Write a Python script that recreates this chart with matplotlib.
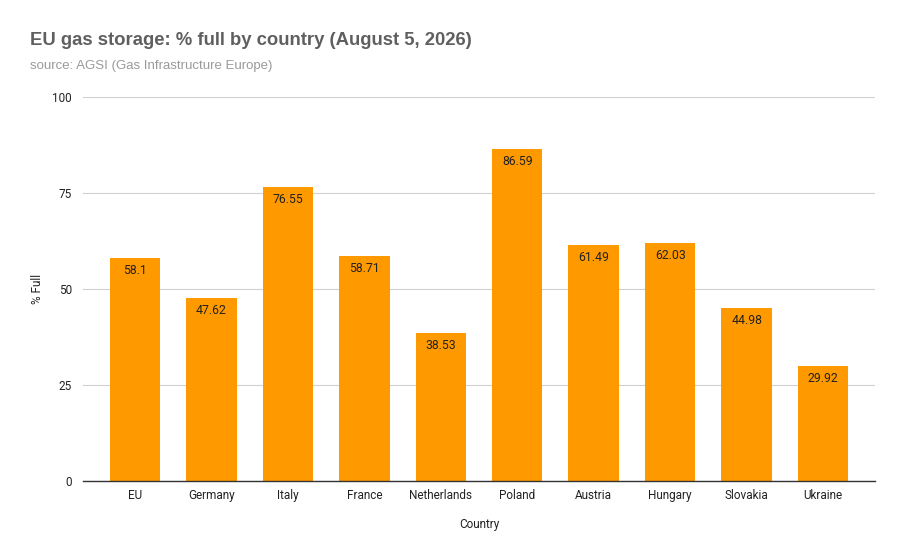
import numpy as np
from matplotlib import pyplot as plt

# Data
countries = ['EU', 'Germany', 'Italy', 'France', 'Netherlands', 'Poland',
             'Austria', 'Hungary', 'Slovakia', 'Ukraine']
pct_full = [58.1, 47.62, 76.55, 58.71, 38.53, 86.59, 61.49, 62.03, 44.98, 29.92]
y_ticks = [0, 25, 50, 75, 100]

plt.rcParams['font.family'] = ['Roboto', 'DejaVu Sans']

fig = plt.figure(figsize=(9.03, 5.58), dpi=100)
ax = fig.add_axes([0.092, 0.138, 0.877, 0.688])

x = np.arange(len(countries))
bars = ax.bar(x, pct_full, width=0.66, color='#ff9900', zorder=2)

# value labels just inside the top of each bar
for rect, v in zip(bars, pct_full):
    ax.annotate(f'{v:g}', (rect.get_x() + rect.get_width() / 2, v),
                xytext=(0, -9), textcoords='offset points',
                ha='center', va='center', fontsize=8.8, color='#222222')

ax.set_xlim(-0.68, len(countries) - 0.32)
ax.set_ylim(0, 100)
ax.set_yticks(y_ticks)
ax.set_xticks(x)
ax.set_xticklabels(countries)
ax.tick_params(axis='both', length=0, labelsize=8.5, colors='#222222')
ax.tick_params(axis='y', pad=8)
ax.tick_params(axis='x', pad=6)
ax.yaxis.grid(True, color='#d0d0d0', linewidth=0.8, zorder=0)
ax.set_axisbelow(True)
for s in ['top', 'right', 'left']:
    ax.spines[s].set_visible(False)
ax.spines['bottom'].set_color('#333333')
ax.spines['bottom'].set_linewidth(1)

ax.set_xlabel('Country', fontsize=8.5, color='#222222', labelpad=11)
ax.set_ylabel('% Full', fontsize=8.5, color='#222222', labelpad=6)

fig.text(0.033, 0.927, 'EU gas storage: % full by country (August 5, 2026)',
         fontsize=13.3, fontweight='bold', color='#5f5f5f',
         family=['Liberation Sans', 'DejaVu Sans'], va='center')
fig.text(0.033, 0.882, 'source: AGSI (Gas Infrastructure Europe)',
         fontsize=9.5, color='#9a9a9a',
         family=['Liberation Sans', 'DejaVu Sans'], va='center')

plt.savefig('out.png', dpi=100)
